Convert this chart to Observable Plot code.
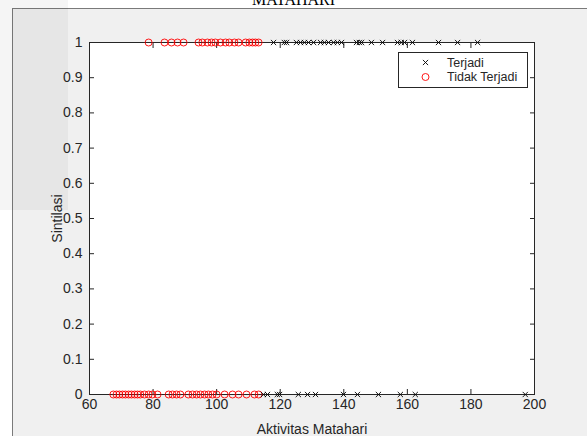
<!DOCTYPE html>
<html>
<head>
<meta charset="utf-8">
<script src="https://cdn.jsdelivr.net/npm/d3@7"></script>
<script src="https://cdn.jsdelivr.net/npm/@observablehq/plot@0.6"></script>
<style>
html, body { margin: 0; padding: 0; background: #ffffff; }
#wrap { position: relative; width: 587px; height: 436px; overflow: hidden; font-family: "Liberation Sans", Arial, sans-serif; }
#fig { position: absolute; left: 12px; top: 8px; width: 575px; height: 428px; background: #f0f0f0; border-left: 1px solid #7a7a7a; border-top: 1px solid #7a7a7a; box-sizing: border-box; }
#shade { position: absolute; left: 0; top: 0; width: 68px; height: 210px; background: rgba(0,0,0,0.04); }
#title { position: absolute; left: 0; width: 587px; top: -8px; text-align: center; font: 16px "Liberation Serif", serif; line-height: 16px; color: #000; }
#chart { position: absolute; left: 0; top: 0; }
#legend { position: absolute; left: 398px; top: 52px; }
</style>
</head>
<body>
<div id="wrap">
  <div id="fig"></div>
  <div id="shade"></div>
  <div id="title">MATAHARI</div>
  <div id="chart"></div>
  <div id="legend"></div>
</div>
<script>
// ---- data ----
const xTicks = [60, 80, 100, 120, 140, 160, 180, 200];
const yTicks = [0, 0.1, 0.2, 0.3, 0.4, 0.5, 0.6, 0.7, 0.8, 0.9, 1];
const seriesNames = ["Terjadi", "Tidak Terjadi"];
const xLabel = "Aktivitas Matahari";
const yLabel = "Sintilasi";
const titleText = "MATAHARI";

// "Terjadi" (black x) at Sintilasi = 1
const terjadiAt1 = [117.9, 121.3, 122.0, 125.1, 126.4, 127.6, 128.9, 130.5, 132.7, 133.9, 135.2, 136.8, 138.0, 139.3, 144.0, 144.9, 145.6, 148.7, 152.2, 156.9, 158.1, 159.1, 161.6, 169.8, 175.8, 182.1];
// "Terjadi" (black x) at Sintilasi = 0
const terjadiAt0 = [114.7, 116.0, 119.1, 119.8, 125.7, 128.6, 131.1, 139.9, 144.3, 150.9, 157.8, 162.5, 197.1];
// "Tidak Terjadi" (red o) at Sintilasi = 1
const tidakAt1 = [78.6, 83.6, 85.8, 87.7, 89.6, 94.3, 95.5, 97.1, 98.4, 99.6, 101.2, 102.8, 104.0, 105.6, 106.9, 109.1, 110.3, 111.3, 112.2, 113.2];
// "Tidak Terjadi" (red o) at Sintilasi = 0
const tidakAt0 = [67.5, 68.5, 69.4, 70.4, 71.3, 72.3, 73.2, 74.2, 75.1, 76.0, 77.3, 78.6, 79.8, 81.4, 84.9, 86.1, 87.4, 88.6, 91.1, 92.4, 93.7, 94.9, 96.2, 97.4, 98.7, 100.0, 102.5, 105.0, 106.9, 109.4, 111.9, 113.2];

// ---- tables ----
const terjadi = [
  ...terjadiAt1.map(x => ({x, y: 1})),
  ...terjadiAt0.map(x => ({x, y: 0}))
];
const tidak = [
  ...tidakAt1.map(x => ({x, y: 1})),
  ...tidakAt0.map(x => ({x, y: 0}))
];

document.getElementById("title").textContent = titleText;

const axisColor = "#262626";
const chart = Plot.plot({
  width: 587,
  height: 436,
  marginLeft: 89,
  marginRight: 53,
  marginTop: 42,
  marginBottom: 42,
  style: { background: "transparent", fontFamily: "'Liberation Sans', Arial, sans-serif", fontSize: "14px", color: axisColor },
  x: { domain: [60, 200] },
  y: { domain: [0, 1] },
  marks: [
    Plot.frame({ fill: "white", stroke: axisColor, strokeWidth: 1 }),
    Plot.axisX({ ticks: xTicks, tickSize: -5, tickPadding: 10, fontSize: 14, label: xLabel, labelAnchor: "center", labelArrow: "none", labelOffset: 39 }),
    Plot.axisX({ anchor: "top", ticks: xTicks, tickSize: -5, tickFormat: () => "", label: null }),
    Plot.axisY({ ticks: yTicks, tickSize: -5, tickPadding: 12, fontSize: 14, tickFormat: d => String(d), label: yLabel, labelAnchor: "center", labelArrow: "none", labelOffset: 37 }),
    Plot.axisY({ anchor: "right", ticks: yTicks, tickSize: -5, tickFormat: () => "", label: null }),
    Plot.dot(tidak, { x: "x", y: "y", r: 3.5, symbol: "circle", stroke: "#ff0000", fill: "none", strokeWidth: 0.9 }),
    Plot.dot(terjadi, { x: "x", y: "y", r: 2.5, symbol: "times", stroke: "#000000", strokeWidth: 0.9 })
  ]
});
document.getElementById("chart").appendChild(chart);

// ---- legend ----
const lg = d3.select("#legend").append("svg").attr("width", 130).attr("height", 36);
lg.append("rect").attr("x", 0.5).attr("y", 0.5).attr("width", 129).attr("height", 35)
  .attr("fill", "white").attr("stroke", axisColor);
const rowsY = [10.5, 25];
const sx = 27.5;
const s = 2.6;
lg.append("path").attr("d", `M${sx - s},${rowsY[0] - s}L${sx + s},${rowsY[0] + s}M${sx - s},${rowsY[0] + s}L${sx + s},${rowsY[0] - s}`)
  .attr("stroke", "#000").attr("stroke-width", 0.9).attr("fill", "none");
lg.append("circle").attr("cx", sx).attr("cy", rowsY[1]).attr("r", 3.5)
  .attr("stroke", "#ff0000").attr("stroke-width", 0.9).attr("fill", "none");
lg.selectAll("text.lab").data(seriesNames).join("text")
  .attr("class", "lab")
  .attr("x", 49).attr("y", (d, i) => rowsY[i])
  .attr("dy", "0.35em")
  .attr("font-family", "'Liberation Sans', Arial, sans-serif")
  .attr("font-size", 12.5)
  .attr("fill", axisColor)
  .text(d => d);
</script>
</body>
</html>
